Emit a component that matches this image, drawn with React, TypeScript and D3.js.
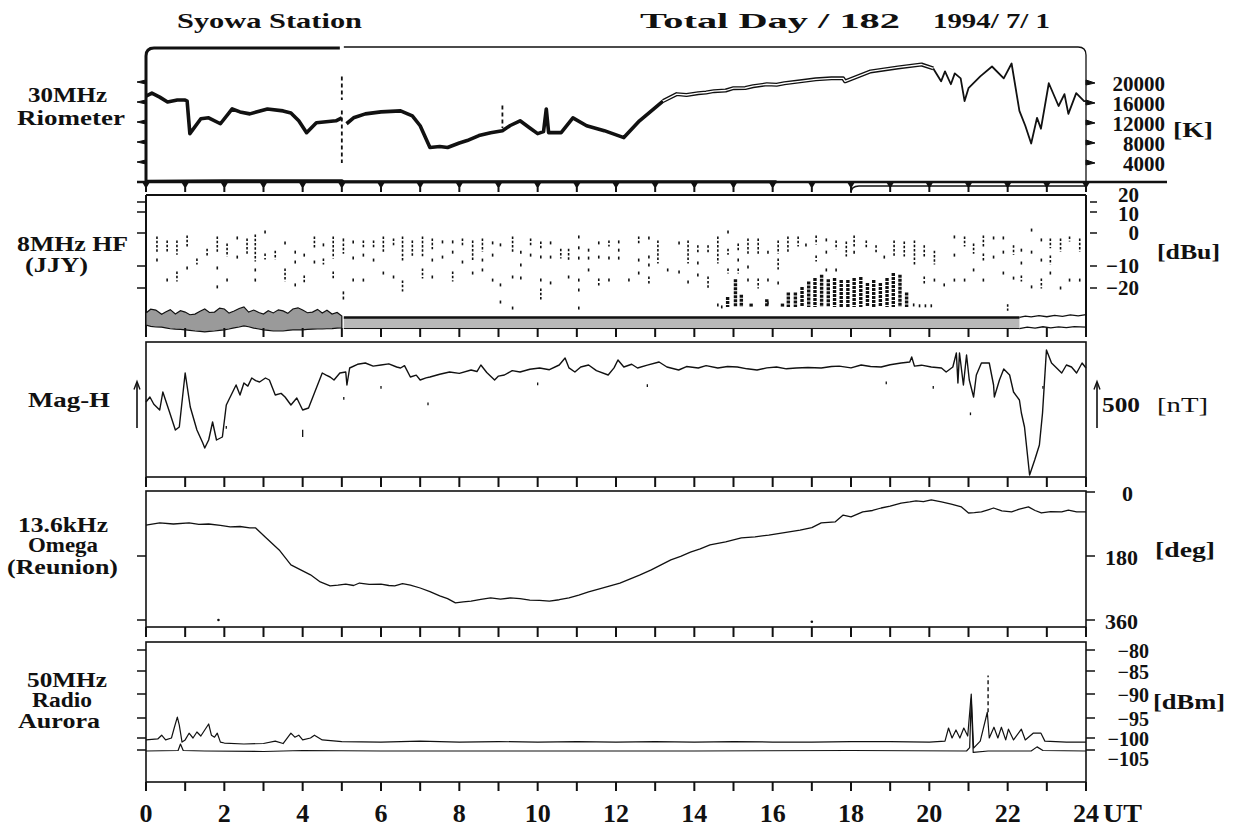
import React from "react";
import * as d3 from "d3";

type P = [number, number];
type R = [number, number, number];

const hourTicks = d3.range(0, 25);
const hourLabels = d3.range(0, 25, 2);

const rioTicks = [4000, 8000, 12000, 16000, 20000];
const hfTicks = [20, 10, 0, -10, -20];
const omegaTicks = [0, 180, 360];
const auroraTicks = [-80, -85, -90, -95, -100, -105];

// 30 MHz riometer [K]
const rioA: P[] = [[0,17380],[0.15,17970],[0.35,17180],[0.55,16200],[0.8,16590],[1.0,16590],[1.05,16390],[1.12,9875],[1.4,12840],[1.6,13035],[1.9,11850],[2.2,14810],[2.4,14220],[2.65,13825],[3.1,14810],[3.5,14420],[3.7,14020],[3.9,12440],[4.1,10070],[4.35,12050],[4.85,12440],[5.0,13035]];
const rioB: P[] = [[5.12,11850],[5.3,13035],[5.6,13825],[6.0,14220],[6.5,14420],[6.8,13430],[7.0,11450],[7.25,7110],[7.5,7300],[7.7,7110],[8.0,8000],[8.2,8490],[8.5,9480],[8.8,10070],[9.1,10470],[9.3,11500],[9.55,12440],[9.8,11000],[10.0,9875],[10.15,10270],[10.22,14810],[10.28,10070],[10.6,10070],[10.9,13035],[11.25,11450],[11.7,10470],[12.2,9085],[12.6,12440],[13.2,16390]];
const rioC: P[] = [[13.2,16390],[13.55,17775],[13.8,17600],[14.1,17970],[14.3,18100],[14.5,18370],[14.8,18500],[15.0,18960],[15.3,19000],[15.5,19355],[15.85,19750],[16.1,19650],[16.3,19950],[16.7,20340],[17.1,20740],[17.5,20935],[17.8,20935],[17.85,20340],[18.5,22320],[19.2,23110],[19.8,23700],[20.1,22910]];
const rioD: P[] = [[20.1,22910],[20.3,20340],[20.4,22320],[20.55,19750],[20.65,21920],[20.8,20935],[20.9,16390],[21.0,18960],[21.3,21330],[21.6,23300],[21.9,20935],[22.1,23900],[22.3,14420],[22.45,11450],[22.6,7900],[22.75,13035],[22.85,10860],[23.05,19950],[23.3,15400],[23.45,17775],[23.55,13825],[23.75,17970],[23.95,16390],[24.0,16390]];
const rioFloor: P[] = [[0,350],[2,450],[5,450],[5.05,250],[16.1,250]];
const rioSpikes: R[] = [[5.0,21300,16600],[5.0,14500,4000],[9.1,15500,11000]];

// 8 MHz HF (JJY) [dBu]: hour, top, bottom
const hfDashes: R[] = [
[0.28,-1.5,-5.8],[0.28,-8.2,-8.2],[0.54,-2.7,-5.2],[0.54,-16.4,-16.4],[0.79,-2.7,-6.1],[0.79,-13.2,-16.4],
[1.05,-1.2,-3.6],[1.05,-10.9,-10.9],[1.3,-8.2,-9.1],[1.56,-5.2,-6.7],[1.82,-1.5,-5.2],[1.82,-10.9,-10.9],[1.82,-19.5,-19.5],
[2.07,-3.6,-6.7],[2.07,-16.4,-16.4],[2.33,-1.5,-1.5],[2.33,-7.3,-7.3],[2.58,-2.1,-5.8],[2.79,-0.9,-8.2],[2.79,-11.8,-11.8],[2.79,-16.4,-16.4],
[3.04,0.5,0.5],[3.04,-6.7,-7.6],[3.3,-5.8,-7.6],[3.55,-3.0,-3.0],[3.55,-11.8,-16.4],[3.81,-5.8,-5.8],[3.81,-8.8,-8.8],[3.81,-18.6,-18.6],
[4.04,-6.7,-6.7],[4.04,-15,-17.3],[4.3,-1.5,-4.5],[4.3,-8.8,-8.8],[4.53,-3.6,-3.6],[4.53,-8.2,-9.1],[4.78,-1.5,-7.3],[4.78,-13.2,-15],
[5.04,-2.1,-2.1],[5.04,-3.6,-5.8],[5.04,-22.2,-22.2],[5.04,-24.5,-24.5],[5.29,-2.7,-2.7],[5.29,-7.6,-7.6],[5.29,-16.4,-16.4],
[5.55,-2.7,-4.2],[5.55,-6.7,-6.7],[5.55,-16.4,-16.4],[5.81,-2.7,-4.2],[5.81,-8.2,-8.2],[6.06,-1.5,-5.2],[6.06,-13.2,-13.2],
[6.32,-2.1,-3.6],[6.32,-15,-15],[6.55,-1.5,-8.2],[6.55,-17.3,-20.9],[6.8,-2.7,-6.7],[7.06,-1.5,-6.7],[7.06,-11.8,-15],
[7.31,-2.1,-4.5],[7.31,-8.2,-8.2],[7.31,-15,-15],[7.57,-2.7,-2.7],[7.57,-7.3,-7.3],[7.83,-2.7,-2.7],[7.83,-5.8,-5.8],[7.83,-13.2,-16.4],
[8.08,-2.1,-3.6],[8.08,-8.8,-8.8],[8.34,-2.7,-8.2],[8.34,-13.2,-13.2],[8.59,-2.1,-5.2],[8.59,-8.2,-8.2],[8.59,-11.8,-11.8],
[8.85,-3.0,-3.0],[8.85,-6.7,-6.7],[8.85,-16.4,-16.4],[9.05,-3.6,-3.6],[9.05,-18.6,-18.6],[9.05,-26.3,-26.3],
[9.36,-1.5,-5.2],[9.36,-15,-15],[9.36,-29,-29],[9.57,-5.8,-5.8],[9.57,-9.7,-9.7],[9.57,-15.5,-15.5],[9.82,-2.1,-3.6],[9.82,-6.7,-6.7],
[10.08,-3.0,-4.2],[10.08,-7.3,-7.3],[10.08,-16.4,-16.4],[10.08,-20.9,-25.4],[10.33,-3.0,-3.0],[10.33,-7.3,-7.3],[10.33,-17.7,-17.7],
[10.59,-5.2,-7.3],[10.79,-5.2,-8.2],[10.79,-15,-15],[11.05,-1.2,-1.2],[11.05,-4.5,-4.5],[11.05,-7.6,-7.6],[11.05,-16.4,-16.4],[11.05,-20.9,-20.9],[11.05,-29,-29],
[11.3,-5.2,-5.2],[11.3,-7.6,-7.6],[11.3,-11.8,-11.8],[11.56,-3.0,-3.0],[11.56,-7.3,-7.3],[11.56,-16.4,-18.6],
[11.82,-2.7,-3.6],[11.82,-7.6,-7.6],[11.82,-16.4,-16.4],[12.07,-2.7,-2.7],[12.07,-5.2,-5.2],[12.07,-7.6,-7.6],[12.33,-16.4,-16.4],
[12.58,-1.5,-3.0],[12.58,-8.2,-8.2],[12.58,-13.2,-13.2],[12.84,-1.5,-1.5],[12.84,-7.3,-7.3],[12.84,-9.7,-9.7],[12.84,-15.5,-17.3],
[13.07,-2.7,-8.8],[13.32,-11.8,-11.8],[13.61,-3.0,-3.0],[13.61,-12.7,-12.7],[13.84,-2.7,-8.8],[13.84,-17.3,-17.3],
[14.09,-4.2,-5.8],[14.09,-9.1,-9.1],[14.09,-14.1,-14.1],[14.35,-4.2,-5.8],[14.35,-15.5,-19.5],[14.6,-1.5,-8.8],[14.6,-27.6,-27.6],
[14.86,0.5,0.5],[14.86,-5.2,-6.1],[14.86,-11.8,-12.7],[15.12,-3.6,-5.2],[15.12,-8.2,-8.2],[15.12,-11.8,-12.7],
[15.37,-2.1,-5.8],[15.37,-10.5,-10.5],[15.37,-16.4,-16.4],[15.63,-2.1,-5.8],[15.63,-16.4,-19.5],[15.88,-5.8,-5.8],[15.88,-16.4,-16.4],[15.88,-26.7,-26.7],
[16.14,-2.7,-5.8],[16.14,-8.2,-10.9],[16.14,-17.7,-17.7],[16.39,-1.5,-5.8],[16.65,-1.5,-3.6],[16.85,-3.6,-3.6],
[17.11,-1.2,-3.0],[17.11,-7.3,-8.2],[17.37,-2.1,-2.1],[17.37,-5.8,-5.8],[17.37,-11.8,-11.8],[17.62,-2.7,-4.5],[17.62,-11.8,-11.8],
[17.88,-3.0,-6.7],[18.08,-1.2,-3.6],[18.08,-5.8,-5.8],[18.39,-2.7,-4.2],[18.64,-4.2,-5.8],[18.85,-7.3,-7.3],
[19.1,-2.7,-6.7],[19.36,-3.0,-6.7],[19.62,-2.7,-9.1],[19.87,-4.2,-6.7],[19.87,-15.5,-17.3],[20.13,-5.8,-9.1],[20.13,-16.4,-16.4],
[20.38,-18.6,-18.6],[20.64,-1.2,-1.2],[20.64,-6.7,-6.7],[20.64,-16.4,-16.4],[20.9,-1.5,-3.6],[20.9,-16.4,-16.4],
[21.13,-3.6,-5.8],[21.13,-11.8,-11.8],[21.38,-1.2,-4.2],[21.38,-6.7,-8.2],[21.38,-16.4,-16.4],[21.64,-1.5,-1.5],[21.64,-7.3,-7.3],
[21.89,-1.5,-1.5],[21.89,-5.8,-5.8],[21.89,-13.2,-13.2],[22.0,-28,-29.5],[22.15,-4.2,-6.1],[22.15,-15.5,-15.5],
[22.35,-5.2,-5.2],[22.35,-9.1,-9.1],[22.35,-15,-16.4],[22.61,1.4,1.4],[22.61,-5.8,-5.8],[22.61,-19.5,-19.5],
[22.86,-2.1,-2.1],[22.86,-8.2,-8.2],[22.86,-16.4,-19.5],[23.09,-2.1,-4.2],[23.09,-7.3,-9.1],[23.09,-13.2,-13.2],
[23.35,-2.1,-5.2],[23.35,-20,-20],[23.58,-1.5,-2.1],[23.58,-16.4,-16.4],[23.84,-2.1,-5.2],[23.84,-16.4,-16.4],
[14.7,-28.5,-28.5],[19.6,-27.6,-27.6],[19.75,-28,-28],[19.9,-28,-28],[20.05,-28,-28]
];
const hfBars: P[] = [[14.85,-24],[15.05,-16],[15.2,-23],[15.45,-27],[15.85,-25],[16.25,-27],[16.4,-22],[16.58,-22],[16.75,-19.5],[16.92,-17],[17.08,-15.5],[17.25,-14],[17.42,-16],[17.58,-15.5],[17.75,-16.4],[17.92,-16.4],[18.08,-15.5],[18.25,-15],[18.42,-17.7],[18.58,-16.4],[18.75,-17.7],[18.92,-15.5],[19.08,-13.2],[19.25,-14],[19.42,-22]];
const hfBarBase = -28.5;
const hfBandA: R[] = [[0,-31.2,-36.6],[0.12,-29.5,-37.2],[0.25,-29.9,-37.5],[0.4,-31.8,-37.6],[0.5,-30.8,-37.9],[0.62,-29.7,-38.3],[0.75,-31.7,-38.5],[0.88,-30.2,-38.6],[1.0,-30.8,-38.8],[1.12,-32.0,-39.0],[1.25,-31.7,-39.3],[1.38,-30.4,-39.5],[1.5,-29.4,-39.7],[1.62,-31.0,-39.5],[1.75,-30.8,-39.3],[1.88,-29.0,-39.0],[2.0,-29.4,-38.8],[2.12,-31.3,-38.4],[2.25,-30.3,-37.9],[2.38,-29.2,-37.5],[2.5,-28.5,-37.0],[2.62,-30.8,-37.4],[2.75,-29.9,-38.0],[2.88,-31.0,-38.4],[3.0,-31.7,-38.8],[3.12,-30.2,-39.0],[3.25,-31.2,-39.3],[3.38,-29.8,-39.3],[3.5,-30.3,-39.3],[3.62,-31.4,-39.0],[3.75,-29.4,-38.8],[3.88,-28.9,-38.8],[4.0,-29.9,-38.8],[4.12,-31.1,-38.6],[4.25,-30.8,-38.5],[4.38,-29.6,-38.4],[4.5,-31.2,-38.4],[4.62,-30.0,-38.3],[4.75,-31.7,-38.2],[4.88,-31.0,-38.0],[5.0,-32.6,-37.9]];
const hfBandB: R[] = [[5.05,-33.2,-38.2],[22.3,-33.2,-38.2]];
const hfTailUpper: P[] = [[22.3,-33.2],[22.45,-32.6],[22.6,-33.0],[22.8,-32.4],[23.0,-32.9],[23.2,-32.3],[23.4,-32.7],[23.6,-32.1],[23.8,-32.5],[24,-32.0]];
const hfTailLower: P[] = [[22.3,-38.2],[22.5,-37.6],[22.7,-38.0],[22.9,-37.4],[23.1,-37.9],[23.3,-37.5],[23.5,-37.8],[23.7,-37.3],[24,-37.6]];

// Magnetometer H [nT, relative]
const magH: P[] = [[0,825],[0.1,880],[0.2,800],[0.35,737],[0.43,935],[0.6,715],[0.75,517],[0.85,550],[1.0,1144],[1.13,770],[1.3,517],[1.45,374],[1.5,319],[1.6,407],[1.7,605],[1.8,407],[1.95,440],[2.05,792],[2.2,924],[2.3,1012],[2.4,902],[2.5,1034],[2.6,1000],[2.7,1089],[2.8,1060],[2.9,1045],[3.05,1089],[3.15,1067],[3.3,902],[3.45,920],[3.55,880],[3.7,792],[3.85,869],[4.0,737],[4.15,759],[4.3,924],[4.5,1144],[4.6,1120],[4.7,1100],[4.8,1067],[4.95,1144],[5.1,1155],[5.13,1012],[5.2,1199],[5.4,1240],[5.6,1254],[5.8,1220],[6.0,1232],[6.2,1245],[6.4,1210],[6.5,1199],[6.6,1225],[6.75,1100],[6.9,1120],[7.0,1067],[7.15,1090],[7.25,1100],[7.5,1130],[7.75,1155],[8.0,1140],[8.3,1177],[8.45,1160],[8.55,1232],[8.7,1150],[8.9,1067],[9.0,1110],[9.15,1122],[9.35,1170],[9.55,1155],[9.8,1185],[10.05,1199],[10.3,1180],[10.55,1232],[10.7,1309],[10.8,1200],[10.95,1155],[11.1,1210],[11.3,1232],[11.5,1170],[11.8,1122],[11.95,1200],[12.05,1287],[12.2,1210],[12.4,1240],[12.55,1199],[12.8,1230],[13.1,1265],[13.3,1210],[13.6,1177],[13.8,1215],[14.1,1199],[14.3,1225],[14.6,1199],[14.85,1215],[15.1,1210],[15.35,1190],[15.6,1177],[15.85,1200],[16.1,1210],[16.35,1190],[16.6,1199],[16.9,1205],[17.24,1199],[17.5,1215],[17.7,1220],[18.0,1200],[18.26,1232],[18.5,1215],[18.77,1210],[19.0,1235],[19.28,1254],[19.5,1265],[19.55,1320],[19.62,1220],[19.8,1230],[20.05,1210],[20.31,1199],[20.43,1155],[20.6,1210],[20.69,1364],[20.73,1034],[20.77,1364],[20.87,1012],[20.95,1342],[21.02,1067],[21.13,880],[21.2,1122],[21.33,1254],[21.53,1254],[21.64,1012],[21.66,880],[21.79,1067],[21.9,1188],[22.05,1122],[22.15,935],[22.3,847],[22.35,704],[22.43,550],[22.56,22],[22.69,187],[22.81,352],[22.89,704],[22.99,1397],[23.12,1254],[23.25,1200],[23.38,1144],[23.5,1232],[23.63,1210],[23.76,1144],[23.9,1254],[24,1199]];
const magDots: R[] = [[2.05,560,530],[4.0,520,440],[5.05,880,850],[6.0,1000,970],[7.2,820,790],[10.0,1040,1010],[12.8,1020,990],[18.9,1050,1020],[20.1,1000,970],[21.05,710,680],[22.9,1000,970]];
const magArrow = 500;

// 13.6 kHz Omega phase [deg]
const omega: P[] = [[0,93],[0.35,87],[0.7,90],[1.1,87],[1.35,91],[1.6,90],[1.9,94],[2.15,98],[2.4,97],[2.65,101],[2.8,101],[3.05,127],[3.4,163],[3.7,205],[3.95,219],[4.2,233],[4.45,253],[4.7,264],[4.9,262],[5.1,259],[5.3,263],[5.45,256],[5.7,260],[6.0,259],[6.2,263],[6.35,264],[6.55,258],[6.75,262],[7.0,270],[7.25,280],[7.5,292],[7.7,300],[7.9,312],[8.1,309],[8.3,307],[8.55,302],[8.8,298],[9.05,301],[9.3,298],[9.55,300],[9.8,304],[10.05,305],[10.3,307],[10.55,303],[10.8,298],[11.05,290],[11.3,281],[11.6,272],[11.85,264],[12.1,256],[12.35,245],[12.6,234],[12.9,219],[13.15,205],[13.4,191],[13.65,181],[13.9,169],[14.15,160],[14.4,149],[14.8,140],[15.2,129],[15.55,126],[15.9,121],[16.3,114],[16.7,107],[17.0,100],[17.24,87],[17.6,84],[17.8,65],[18.0,70],[18.3,56],[18.55,52],[18.77,45],[19.0,40],[19.28,31],[19.5,28],[19.66,25],[19.85,27],[20.05,22],[20.31,28],[20.56,34],[20.82,42],[21.0,59],[21.15,58],[21.33,56],[21.5,50],[21.64,45],[21.85,53],[22.1,56],[22.3,48],[22.53,42],[22.7,52],[22.86,59],[23.1,55],[23.38,56],[23.55,51],[23.76,56],[24,56]];
const omegaDots: P[] = [[1.85,360],[17.0,365]];

// 50 MHz radio aurora [dBm]
const auroraUpper: P[] = [[0,-100.8],[0.3,-100.4],[0.4,-99.3],[0.5,-100.8],[0.65,-100],[0.72,-97.5],[0.8,-94.8],[0.85,-96.8],[0.92,-101.7],[1.0,-100.8],[1.1,-98.8],[1.2,-100],[1.3,-98.5],[1.4,-99.5],[1.5,-98],[1.6,-96.5],[1.67,-99.3],[1.75,-99.8],[1.82,-98.8],[1.9,-101.7],[2.0,-102.1],[2.5,-102.5],[3.0,-102.3],[3.3,-101.3],[3.5,-102.3],[3.7,-98.8],[3.8,-99.8],[3.9,-99.3],[4.0,-100.8],[4.2,-100],[4.3,-99.3],[4.5,-100.8],[5,-101.5],[6,-101.7],[7,-101.3],[8,-101.7],[9,-101.5],[10,-101.7],[11,-101.5],[12,-101.7],[13,-101.5],[14,-101.7],[15,-101.5],[16,-101.7],[17,-101.7],[18,-101.5],[19,-101.5],[20,-101.7],[20.4,-101.3],[20.49,-97.5],[20.58,-100],[20.68,-98],[20.78,-100],[20.88,-97.5],[20.98,-99.5],[21.07,-90],[21.13,-104.2],[21.3,-101.3],[21.48,-93.8],[21.53,-100],[21.65,-97.3],[21.75,-100],[21.84,-97.3],[21.95,-100.8],[22.02,-97.8],[22.15,-100.8],[22.35,-97.8],[22.45,-100.8],[22.65,-98.8],[22.85,-98.8],[22.95,-101.3],[23.5,-101.7],[24,-101.7]];
const auroraLower: P[] = [[0,-105.4],[0.82,-105.2],[0.88,-102.5],[0.95,-105.2],[1.5,-105.4],[3,-105.6],[4,-105.2],[6,-105.4],[10,-105.4],[14,-105.4],[18,-105.2],[20.95,-105.4],[21.03,-104],[21.07,-91],[21.12,-106],[21.5,-105.4],[22.6,-105.4],[22.75,-103.7],[22.9,-105.2],[24,-105.4]];
const auroraSpikes: R[] = [[21.5,-93.8,-86]];

const FONT = "'Liberation Serif', 'Times New Roman', serif";

function Label(props: { x: number; y: number; len?: number; size?: number; anchor?: string; children: any; weight?: string }) {
  const { x, y, len, size = 20, anchor = "start", children, weight = "bold" } = props;
  return (
    <text x={x} y={y} fontSize={size} fontWeight={weight} textAnchor={anchor as any}
      {...(len ? { textLength: len, lengthAdjust: "spacingAndGlyphs" } : {})} fill="#111">
      {children}
    </text>
  );
}

export default function App() {
  const W = 1242, H = 829;
  const x = d3.scaleLinear().domain([0, 24]).range([146, 1086]);
  const X0 = x(0), X1 = x(24);
  const yRio = d3.scaleLinear().domain([0, 20000]).range([183, 83]);
  const yHF = d3.scaleLinear().domain([-42, -20, -10, 0, 10, 20]).range([337, 288, 266, 233, 212, 202]);
  const yMag = d3.scaleLinear().domain([0, 1485]).range([477, 342]);
  const yOm = d3.scaleLinear().domain([0, 360]).range([492, 620]);
  const yAu = d3.scaleLinear().domain([-118, -105, -100, -95, -90, -85, -80]).range([782, 750, 738, 718, 694, 671, 650]);

  const mk = (ys: any) => d3.line<P>().x(d => x(d[0])).y(d => ys(d[1]));
  const lineRio = mk(yRio), lineHF = mk(yHF), lineMag = mk(yMag), lineOm = mk(yOm), lineAu = mk(yAu);
  const areaHF = d3.area<R>().x(d => x(d[0])).y0(d => yHF(d[2])).y1(d => yHF(d[1]));

  const ink = "#111";
  const hfLabelShift = (t: number) => (t === 20 ? -7 : t === 10 ? 2 : 0);

  return (
    <svg width={W} height={H} viewBox={`0 0 ${W} ${H}`} style={{ position: "absolute", left: 0, top: 0, background: "#fff" }} fontFamily={FONT}>
      <rect width={W} height={H} fill="#fff" />

      {/* Header */}
      <Label x={177} y={28} size={22} len={185}>Syowa Station</Label>
      <Label x={640} y={28} size={22} len={260}>Total Day / 182</Label>
      <Label x={933} y={28} size={22} len={117}>1994/ 7/ 1</Label>

      {/* ============ Panel 1: Riometer ============ */}
      <path d={`M${X0},182 V56 Q${X0},48 ${X0 + 8},48 H${x(5) - 2}`} fill="none" stroke={ink} strokeWidth={3} />
      <path d={`M${x(5) + 2},47 H${X1 - 8} Q${X1},47 ${X1},55 V182`} fill="none" stroke={ink} strokeWidth={1.3} />
      <line x1={137} x2={1167} y1={182} y2={182} stroke={ink} strokeWidth={2.5} />
      {rioTicks.map(t => (
        <g key={"rt" + t}>
          <path d={`M137,${yRio(t) - 1} L146,${yRio(t) - 3} L146,${yRio(t) + 1} Z`} fill={ink} stroke={ink} strokeWidth={1} />
          <path d={`M${X1},${yRio(t) - 3} L${X1 + 9},${yRio(t)} L${X1},${yRio(t) + 2} Z`} fill={ink} stroke={ink} strokeWidth={1} />
          <Label x={1165} y={yRio(t) + 8} size={21} anchor="end">{String(t)}</Label>
        </g>
      ))}
      <Label x={1173} y={137} size={22} len={40}>[K]</Label>
      <path d={lineRio(rioFloor) || ""} fill="none" stroke={ink} strokeWidth={3} />
      {rioSpikes.map((d, i) => (
        <line key={"rs" + i} x1={x(d[0])} x2={x(d[0])} y1={yRio(d[1])} y2={yRio(d[2])} stroke={ink} strokeWidth={1.8} strokeDasharray="4 3" />
      ))}
      <path d={lineRio(rioA) || ""} fill="none" stroke={ink} strokeWidth={3.6} strokeLinejoin="round" />
      <path d={lineRio(rioB) || ""} fill="none" stroke={ink} strokeWidth={3.6} strokeLinejoin="round" />
      <path d={lineRio(rioC) || ""} fill="none" stroke={ink} strokeWidth={4} strokeLinejoin="round" />
      <path d={lineRio(rioC) || ""} fill="none" stroke="#fff" strokeWidth={1.3} strokeLinejoin="round" />
      <path d={lineRio(rioD) || ""} fill="none" stroke={ink} strokeWidth={1.8} strokeLinejoin="round" />
      <path d={`M${x(18)},193 Q${x(18)},186 ${x(18) + 8},186 H${X1}`} fill="none" stroke={ink} strokeWidth={1.5} />
      {hourTicks.map(h => (
        <g key={"t1" + h}>
          <path d={`M${x(h) - 4},182 L${x(h) + 4},182 L${x(h) + 1},187 L${x(h) - 1},187 Z`} fill={ink} />
          <line x1={x(h)} x2={x(h)} y1={182} y2={192} stroke={ink} strokeWidth={2} />
        </g>
      ))}

      {/* ============ Panel 2: HF ============ */}
      <line x1={X0} x2={X1} y1={195} y2={195} stroke={ink} strokeWidth={2} />
      <line x1={X0} x2={X0} y1={195} y2={337} stroke={ink} strokeWidth={2} />
      <line x1={X1} x2={X1} y1={195} y2={337} stroke={ink} strokeWidth={2} />
      {hfTicks.map(t => (
        <g key={"ht" + t}>
          <line x1={137} x2={X0} y1={yHF(t)} y2={yHF(t)} stroke={ink} strokeWidth={1.5} />
          <line x1={X1 + 4} x2={X1 + 11} y1={yHF(t)} y2={yHF(t)} stroke={ink} strokeWidth={1.5} />
          <Label x={1139} y={yHF(t) + 7 + hfLabelShift(t)} size={21} anchor="end">{t < 0 ? "\u2212" + Math.abs(t) : String(t)}</Label>
        </g>
      ))}
      <Label x={1157} y={259} size={22} len={63}>[dBu]</Label>
      {hfDashes.map((d, i) => (
        <line key={"hd" + i} x1={x(d[0])} x2={x(d[0])} y1={yHF(d[1]) - 1.5} y2={yHF(d[2]) + 1.5}
          stroke={ink} strokeWidth={1.6} strokeDasharray={d[1] === d[2] ? undefined : "2.5 1.8"} />
      ))}
      {hfBars.map((d, i) => (
        <line key={"hb" + i} x1={x(d[0])} x2={x(d[0])} y1={yHF(d[1])} y2={yHF(hfBarBase)} stroke={ink} strokeWidth={3.4} strokeDasharray="3 1" />
      ))}
      <path d={areaHF(hfBandA) || ""} fill="#9a9a9a" stroke={ink} strokeWidth={1.2} />
      <path d={areaHF(hfBandB) || ""} fill="#b8b8b8" stroke="none" />
      <path d={lineHF(hfBandB.map(d => [d[0], d[1]] as P)) || ""} fill="none" stroke={ink} strokeWidth={2.5} />
      <path d={lineHF(hfBandB.map(d => [d[0], d[2]] as P)) || ""} fill="none" stroke={ink} strokeWidth={1} />
      <path d={lineHF(hfTailUpper) || ""} fill="none" stroke={ink} strokeWidth={1.3} />
      <path d={lineHF(hfTailLower) || ""} fill="none" stroke={ink} strokeWidth={1.3} />
      {hourTicks.map(h => (
        <line key={"t2" + h} x1={x(h)} x2={x(h)} y1={328} y2={337} stroke={ink} strokeWidth={2} />
      ))}

      {/* ============ Panel 3: Mag-H ============ */}
      <rect x={X0} y={342} width={X1 - X0} height={477 - 342} fill="none" stroke={ink} strokeWidth={1.6} />
      {magDots.map((d, i) => (
        <line key={"md" + i} x1={x(d[0])} x2={x(d[0])} y1={yMag(d[1])} y2={yMag(d[2])} stroke={ink} strokeWidth={1.3} />
      ))}
      <path d={lineMag(magH) || ""} fill="none" stroke={ink} strokeWidth={1.4} strokeLinejoin="round" />
      {[137, 1097].map(ax => (
        <g key={"ar" + ax}>
          <line x1={ax} x2={ax} y1={yMag(0) - 49} y2={yMag(magArrow) - 49} stroke={ink} strokeWidth={1.6} />
          <path d={`M${ax - 3},${yMag(magArrow) - 42} L${ax},${yMag(magArrow) - 50} L${ax + 3},${yMag(magArrow) - 42}`} fill="none" stroke={ink} strokeWidth={1.4} />
        </g>
      ))}
      <Label x={1102} y={412} size={22} len={38}>{String(magArrow)}</Label>
      <Label x={1157} y={412} size={22} len={51} weight="normal">[nT]</Label>
      {hourTicks.map(h => (
        <line key={"t3" + h} x1={x(h)} x2={x(h)} y1={477} y2={487} stroke={ink} strokeWidth={2} />
      ))}

      {/* ============ Panel 4: Omega ============ */}
      <rect x={X0} y={491} width={X1 - X0} height={627 - 491} fill="none" stroke={ink} strokeWidth={1.6} />
      {omegaTicks.map(t => (
        <g key={"ot" + t}>
          {t > 0 && <line x1={137} x2={X0} y1={yOm(t)} y2={yOm(t)} stroke={ink} strokeWidth={1.5} />}
          <line x1={X1} x2={X1 + 9} y1={yOm(t)} y2={yOm(t)} stroke={ink} strokeWidth={1.5} />
          <Label x={t === 0 ? 1133 : 1138} y={yOm(t) + 9} size={22} anchor="end">{String(t)}</Label>
        </g>
      ))}
      <Label x={1155} y={557} size={22} len={60}>[deg]</Label>
      <path d={lineOm(omega) || ""} fill="none" stroke={ink} strokeWidth={1.3} strokeLinejoin="round" />
      {omegaDots.map((d, i) => (
        <circle key={"od" + i} cx={x(d[0])} cy={yOm(d[1])} r={1.3} fill={ink} />
      ))}
      {hourTicks.map(h => (
        <line key={"t4" + h} x1={x(h)} x2={x(h)} y1={627} y2={637} stroke={ink} strokeWidth={2} />
      ))}

      {/* ============ Panel 5: Radio Aurora ============ */}
      <rect x={X0} y={642} width={X1 - X0} height={782 - 642} fill="none" stroke={ink} strokeWidth={1.6} />
      {auroraTicks.map(t => (
        <g key={"at" + t}>
          <line x1={137} x2={X0} y1={yAu(t)} y2={yAu(t)} stroke={ink} strokeWidth={1.5} />
          <line x1={X1} x2={X1 + 9} y1={yAu(t)} y2={yAu(t)} stroke={ink} strokeWidth={1.5} />
          <Label x={1149} y={yAu(t) + (t === -105 ? 16 : 8)} size={20} anchor="end">{"\u2212" + Math.abs(t)}</Label>
        </g>
      ))}
      <Label x={1153} y={709} size={22} len={72}>[dBm]</Label>
      {auroraSpikes.map((d, i) => (
        <line key={"as" + i} x1={x(d[0])} x2={x(d[0])} y1={yAu(d[1])} y2={yAu(d[2])} stroke={ink} strokeWidth={1.4} strokeDasharray="4 3" />
      ))}
      <path d={lineAu(auroraUpper) || ""} fill="none" stroke={ink} strokeWidth={1.2} strokeLinejoin="round" />
      <path d={lineAu(auroraLower) || ""} fill="none" stroke={ink} strokeWidth={1.2} strokeLinejoin="round" />
      {hourTicks.map(h => (
        <line key={"t5" + h} x1={x(h)} x2={x(h)} y1={782} y2={791} stroke={ink} strokeWidth={2} />
      ))}
      {hourLabels.map(h => (
        <Label key={"hl" + h} x={x(h)} y={822} size={26} anchor="middle">{String(h)}</Label>
      ))}
      <Label x={1103} y={822} size={26} len={39}>UT</Label>

      {/* Left panel titles */}
      <Label x={28} y={102} len={79}>30MHz</Label>
      <Label x={17} y={125} len={108}>Riometer</Label>
      <Label x={17} y={251} len={111}>8MHz HF</Label>
      <Label x={25} y={272} len={63}>(JJY)</Label>
      <Label x={28} y={407} len={82}>Mag-H</Label>
      <Label x={18} y={532} len={90}>13.6kHz</Label>
      <Label x={28} y={552} len={70}>Omega</Label>
      <Label x={7} y={574} len={111}>(Reunion)</Label>
      <Label x={27} y={687} len={80}>50MHz</Label>
      <Label x={32} y={707} len={60}>Radio</Label>
      <Label x={18} y={728} len={82}>Aurora</Label>
    </svg>
  );
}
